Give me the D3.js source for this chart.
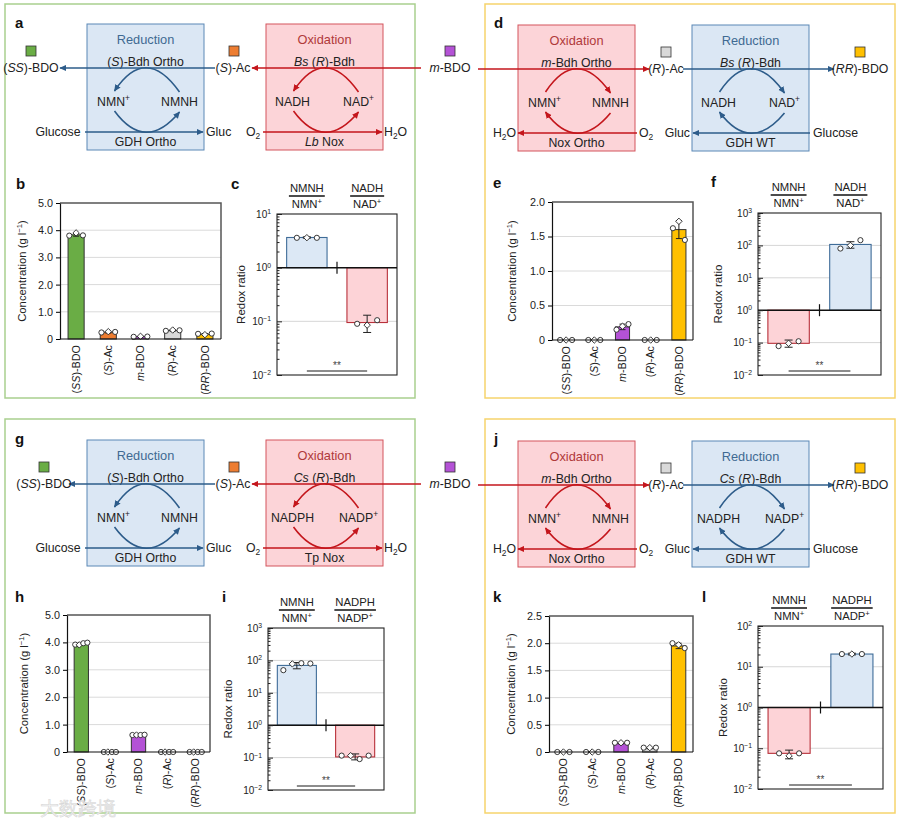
<!DOCTYPE html>
<html><head><meta charset="utf-8">
<script src="https://cdn.jsdelivr.net/npm/d3@7"></script>
<style>body{margin:0;background:#fff}svg{display:block}text{font-family:"Liberation Sans",Arial,sans-serif}</style>
</head><body><svg id="fig" width="900" height="823"></svg>
<script>
// ---------------- DATA ----------------
const concCategories = ["(SS)-BDO", "(S)-Ac", "m-BDO", "(R)-Ac", "(RR)-BDO"];

const bTicks = [0, 1, 2, 3, 4, 5];
const bMeans = [3.83, 0.25, 0.09, 0.31, 0.18];
const bErr = [0.05, 0.03, 0.01, 0.02, 0.02];
const bReps = [[3.80, 3.90, 3.81], [0.24, 0.27, 0.26], [0.08, 0.10, 0.09], [0.30, 0.33, 0.32], [0.19, 0.16, 0.20]];

const eTicks = [0, 0.5, 1, 1.5, 2];
const eMeans = [0, 0, 0.19, 0, 1.60];
const eErr = [0, 0, 0.04, 0, 0.13];
const eReps = [[0, 0, 0], [0, 0, 0], [0.15, 0.20, 0.23], [0, 0, 0], [1.62, 1.72, 1.45]];

const hTicks = [0, 1, 2, 3, 4, 5];
const hMeans = [3.94, 0, 0.62, 0, 0];
const hErr = [0.03, 0, 0.01, 0, 0];
const hReps = [[3.92, 3.91, 3.97, 3.99], [0, 0, 0, 0], [0.62, 0.62, 0.62, 0.63], [0, 0, 0, 0], [0, 0, 0, 0]];

const kTicks = [0, 0.5, 1, 1.5, 2, 2.5];
const kMeans = [0, 0, 0.16, 0.07, 1.95];
const kErr = [0, 0, 0.01, 0.01, 0.05];
const kReps = [[0, 0, 0], [0, 0, 0], [0.17, 0.17, 0.17], [0.08, 0.08, 0.08], [2.00, 1.97, 1.91]];

const cHeaders = [["NMNH", "NMN+"], ["NADH", "NAD+"]];
const cDomain = [0.01, 10];
const cMeans = [3.65, 0.095];
const cLow = [3.55, 0.062], cHigh = [3.75, 0.13];
const cReps = [[3.6, 3.62, 3.6], [0.09, 0.085, 0.105]];

const fHeaders = [["NMNH", "NMN+"], ["NADH", "NAD+"]];
const fDomain = [0.01, 1000];
const fMeans = [0.095, 107];
const fLow = [0.072, 82], fHigh = [0.12, 130];
const fReps = [[0.078, 0.095, 0.11], [80, 100, 145]];

const iHeaders = [["NMNH", "NMN+"], ["NADPH", "NADP+"]];
const iDomain = [0.01, 1000];
const iMeans = [70, 0.105];
const iLow = [55, 0.085], iHigh = [86, 0.13];
const iReps = [[50, 78, 82, 80], [0.115, 0.115, 0.09, 0.115]];

const lHeaders = [["NMNH", "NMN+"], ["NADPH", "NADP+"]];
const lDomain = [0.01, 100];
const lMeans = [0.075, 20.5];
const lLow = [0.055, 19.5], lHigh = [0.09, 21.5];
const lReps = [[0.075, 0.065, 0.075], [20.5, 20.5, 20.5]];

// ---------------- STYLE ----------------
const concColors = ["#6aad45", "#ed7d31", "#b452d6", "#d9d9d9", "#ffc000"];
const BLUE = "#2d5c8a", RED = "#c4161c";
const svg = d3.select("#fig");

function rich(sel, str, fs) {
  let cur = 0;
  const toks = str.match(/\*[^*]+\*|\^[^^]+\^|_[^_]+_|[^*^_]+/g) || [];
  for (const tok of toks) {
    const t = sel.append("tspan");
    let target = 0, txt = tok, size = null, ital = false;
    if (tok[0] === "*") { txt = tok.slice(1, -1); ital = true; }
    else if (tok[0] === "^") { txt = tok.slice(1, -1); target = -0.38 * fs; size = 0.68 * fs; }
    else if (tok[0] === "_") { txt = tok.slice(1, -1); target = 0.25 * fs; size = 0.68 * fs; }
    if (target !== cur) t.attr("dy", target - cur);
    cur = target;
    if (size) t.attr("font-size", size);
    if (ital) t.attr("font-style", "italic");
    t.text(txt);
  }
  return sel;
}
function txt(x, y, s, opt = {}) {
  const fs = opt.fs || 12.3;
  const t = svg.append("text").attr("x", x).attr("y", y).attr("font-size", fs)
    .attr("text-anchor", opt.anchor || "middle").attr("fill", opt.fill || "#222");
  if (opt.bold) t.attr("font-weight", "bold");
  rich(t, s, fs);
  return t;
}
function markup(cat) {
  return cat.replace(/\(([SR]+)\)/, "(*$1*)").replace(/^m-/, "*m*-");
}

// arrow markers
const defs = svg.append("defs");
[["ab", BLUE], ["ar", RED]].forEach(([id, c]) => {
  defs.append("marker").attr("id", id).attr("viewBox", "0 0 10 10").attr("refX", 9).attr("refY", 5)
    .attr("markerWidth", 7).attr("markerHeight", 7).attr("markerUnits", "userSpaceOnUse").attr("orient", "auto")
    .append("path").attr("d", "M0,0.5 L10,5 L0,9.5 Z").attr("fill", c);
});
function arrow(d, col) {
  svg.append("path").attr("d", d).attr("fill", "none").attr("stroke", col).attr("stroke-width", 1.6)
    .attr("marker-end", col === BLUE ? "url(#ab)" : "url(#ar)");
}
function hArrow(xs, xe, y, col) { arrow(`M${xs},${y} L${xe},${y}`, col); }
function square(cx, cy, fill) {
  svg.append("rect").attr("x", cx - 5).attr("y", cy - 5).attr("width", 10).attr("height", 10)
    .attr("fill", fill).attr("stroke", "#333").attr("stroke-width", 0.8);
}

// frames
[[5, 4, "#a9cf8e"], [485, 4, "#f6d46c"], [5, 419, "#a9cf8e"], [485, 419, "#f6d46c"]].forEach(([x, y, c]) => {
  svg.append("rect").attr("x", x).attr("y", y).attr("width", 410).attr("height", 394)
    .attr("fill", "none").attr("stroke", c).attr("stroke-width", 1.5);
});

// cycle box
function cycleBox(x0, top, kind, title, enzyme, bottomEnz, cofL, cofR, dir) {
  const w = 117, h = 126, cx = x0 + w / 2;
  const col = kind === "blue" ? BLUE : RED;
  svg.append("rect").attr("x", x0).attr("y", top).attr("width", w).attr("height", h)
    .attr("fill", kind === "blue" ? "#dbe7f4" : "#fcd4d8")
    .attr("stroke", kind === "blue" ? "#5b88b6" : "#d3545d").attr("stroke-width", 1);
  txt(cx, top + 20, title, { fs: 12.8, fill: kind === "blue" ? "#3f6a92" : "#b03a3a" });
  txt(cx, top + 42, enzyme);
  txt(cx - 32, top + 82, cofL);
  txt(cx + 34, top + 82, cofR);
  txt(cx, top + 122, bottomEnz);
  const L = [cx - 31, top + 67], R = [cx + 34, top + 68];
  const L2 = [cx - 31, top + 87], R2 = [cx + 34, top + 88];
  if (dir === "ccw") {
    arrow(`M${R} Q${cx},${top + 20} ${L}`, col);
    arrow(`M${L2} Q${cx},${top + 129} ${R2}`, col);
  } else {
    arrow(`M${L} Q${cx},${top + 20} ${R}`, col);
    arrow(`M${R2} Q${cx},${top + 129} ${L2}`, col);
  }
}

function leftScheme(top, letter, prodX, prodHead, oxEnz, cof, nox) {
  txt(15, top + 4, letter, { fs: 15, bold: true, anchor: "start", fill: "#111" });
  cycleBox(87, top, "blue", "Reduction", "(*S*)-Bdh Ortho", "GDH Ortho", "NMN^+^", "NMNH", "ccw");
  cycleBox(266, top, "red", "Oxidation", oxEnz, nox, cof[0], cof[1], "ccw");
  const ya = top + 44;
  hArrow(215, prodHead, ya, BLUE);
  hArrow(421, 252, ya, RED);
  square(prodX, top + 27, concColors[0]); txt(prodX, ya + 4, "(*SS*)-BDO");
  square(234, top + 27, concColors[1]); txt(233, ya + 4, "(*S*)-Ac");
  square(450, top + 27, concColors[2]); txt(450, ya + 4, "*m*-BDO");
  const yb = top + 108;
  txt(58, yb + 4, "Glucose");
  hArrow(85, 203, yb, BLUE);
  txt(206, yb + 4, "Gluc", { anchor: "start" });
  txt(253, yb + 4, "O_2_");
  hArrow(263, 382, yb, RED);
  txt(384, yb + 4, "H_2_O", { anchor: "start" });
}
function rightScheme(top, letter, redEnz, cof) {
  txt(494, top + 3, letter, { fs: 15, bold: true, anchor: "start", fill: "#111" });
  cycleBox(518, top, "red", "Oxidation", "*m*-Bdh Ortho", "Nox Ortho", "NMN^+^", "NMNH", "cw");
  cycleBox(692, top, "blue", "Reduction", redEnz, "GDH WT", cof[0], cof[1], "cw");
  const ya = top + 44;
  hArrow(478, 649, ya, RED);
  hArrow(683, 834, ya, BLUE);
  square(666, top + 27, concColors[3]); txt(666, ya + 4, "(*R*)-Ac");
  square(860, top + 27, concColors[4]); txt(860, ya + 4, "(*RR*)-BDO");
  const yb = top + 108;
  txt(516, yb + 4, "H_2_O", { anchor: "end" });
  hArrow(637, 518, yb, RED);
  txt(639, yb + 4, "O_2_", { anchor: "start" });
  txt(690, yb + 4, "Gluc", { anchor: "end" });
  hArrow(810, 693, yb, BLUE);
  txt(813, yb + 4, "Glucose", { anchor: "start" });
}
leftScheme(24, "a", 31, 60, "*Bs* (*R*)-Bdh", ["NADH", "NAD^+^"], "*Lb* Nox");
leftScheme(440, "g", 44, 69, "*Cs* (*R*)-Bdh", ["NADPH", "NADP^+^"], "Tp Nox");
rightScheme(25, "d", "*Bs* (*R*)-Bdh", ["NADH", "NAD^+^"]);
rightScheme(441, "j", "*Cs* (*R*)-Bdh", ["NADPH", "NADP^+^"]);

// marker
function marker(g, x, y, i) {
  if (i % 3 === 1) {
    g.append("path").attr("d", `M${x},${y - 3.2} L${x + 3.2},${y} L${x},${y + 3.2} L${x - 3.2},${y} Z`)
      .attr("fill", "#fff").attr("stroke", "#222").attr("stroke-width", 0.9);
  } else {
    g.append("circle").attr("cx", x).attr("cy", y).attr("r", 2.6)
      .attr("fill", "#fff").attr("stroke", "#222").attr("stroke-width", 0.9);
  }
}

// concentration chart
function concChart(o) {
  const g = svg.append("g");
  const x = d3.scaleBand().domain(concCategories).range([o.x0, o.x1]);
  const y = d3.scaleLinear().domain([0, d3.max(o.ticks)]).range([o.yBot, o.yTop]);
  txt(o.lx, o.ly, o.letter, { fs: 15, bold: true, anchor: "start", fill: "#111" });
  o.ticks.slice(1, -1).forEach(t => g.append("line").attr("x1", o.x0).attr("x2", o.x1)
    .attr("y1", y(t)).attr("y2", y(t)).attr("stroke", "#dadada").attr("stroke-width", 1));
  g.append("path").attr("d", `M${o.x0},${o.yTop} L${o.x1},${o.yTop} L${o.x1},${o.yBot}`)
    .attr("fill", "none").attr("stroke", "#555").attr("stroke-width", 1.5);
  const ax = g.append("g").attr("transform", `translate(${o.x0},0)`)
    .call(d3.axisLeft(y).tickValues(o.ticks).tickSize(4).tickSizeOuter(0)
      .tickFormat(d => d === 0 ? "0" : d3.format(".1f")(d)));
  ax.selectAll("text").attr("font-size", 10.8).attr("fill", "#222").attr("font-family", "Liberation Sans, Arial");
  ax.select(".domain").attr("stroke", "#111").attr("stroke-width", 1.2);
  const bw = x.bandwidth() * 0.5;
  concCategories.forEach((c, i) => {
    const cx = x(c) + x.bandwidth() / 2;
    g.append("rect").attr("x", cx - bw / 2).attr("y", y(o.means[i])).attr("width", bw)
      .attr("height", y(0) - y(o.means[i])).attr("fill", concColors[i]).attr("stroke", "#333").attr("stroke-width", 1);
    if (o.err[i] > 0) {
      const y1 = y(o.means[i] - o.err[i]), y2 = y(o.means[i] + o.err[i]);
      g.append("path").attr("d", `M${cx},${y1} L${cx},${y2} M${cx - 3},${y1} L${cx + 3},${y1} M${cx - 3},${y2} L${cx + 3},${y2}`)
        .attr("stroke", "#222").attr("stroke-width", 1).attr("fill", "none");
    }
    const reps = o.reps[i], n = reps.length, spread = bw * 0.85;
    reps.forEach((v, j) => marker(g, cx - spread / 2 + (n === 1 ? spread / 2 : spread * j / (n - 1)), y(v), j));
    const lt = g.append("text").attr("transform", `translate(${cx},${o.yBot + 6}) rotate(-90)`)
      .attr("text-anchor", "end").attr("dy", "0.35em").attr("font-size", 10.8).attr("fill", "#222");
    rich(lt, markup(c), 10.8);
  });
  g.append("line").attr("x1", o.x0).attr("x2", o.x1).attr("y1", o.yBot).attr("y2", o.yBot)
    .attr("stroke", "#111").attr("stroke-width", 1.2);
  const tt = g.append("text").attr("transform", `translate(${o.tx},${(o.yTop + o.yBot) / 2}) rotate(-90)`)
    .attr("text-anchor", "middle").attr("font-size", 11.3).attr("fill", "#222");
  rich(tt, "Concentration (g l^−1^)", 11.3);
}

// redox chart
function redoxChart(o) {
  const g = svg.append("g");
  const x = d3.scaleBand().domain([0, 1]).range([o.x0, o.x1]).paddingInner(0.33).paddingOuter(0.16);
  const y = d3.scaleLog().domain(o.domain).range([o.yBot, o.yTop]);
  txt(o.lx, o.ly, o.letter, { fs: 15, bold: true, anchor: "start", fill: "#111" });
  const e0 = Math.round(Math.log10(o.domain[0])), e1 = Math.round(Math.log10(o.domain[1]));
  const majors = d3.range(e0, e1 + 1).map(e => Math.pow(10, e));
  const minors = [];
  d3.range(e0, e1).forEach(e => { for (let k = 2; k <= 9; k++) minors.push(k * Math.pow(10, e)); });
  majors.slice(1, -1).forEach(t => { if (t !== 1) g.append("line").attr("x1", o.x0).attr("x2", o.x1)
    .attr("y1", y(t)).attr("y2", y(t)).attr("stroke", "#d6d6d6").attr("stroke-width", 1); });
  const bw = x.bandwidth();
  [0, 1].forEach(i => {
    const v = o.means[i], up = v > 1, cx = x(i) + bw / 2;
    g.append("rect").attr("x", x(i)).attr("y", Math.min(y(v), y(1))).attr("width", bw)
      .attr("height", Math.abs(y(v) - y(1)))
      .attr("fill", up ? "#dce8f5" : "#fdd3d7").attr("stroke", up ? "#3f6c98" : "#b8303a").attr("stroke-width", 1.1);
    const y1 = y(o.low[i]), y2 = y(o.high[i]);
    g.append("path").attr("d", `M${cx},${y1} L${cx},${y2} M${cx - 4},${y1} L${cx + 4},${y1} M${cx - 4},${y2} L${cx + 4},${y2}`)
      .attr("stroke", "#222").attr("stroke-width", 1).attr("fill", "none");
    const reps = o.reps[i], n = reps.length, spread = n > 3 ? 27 : 20;
    reps.forEach((r, j) => marker(g, cx - spread / 2 + spread * j / (n - 1), y(r), j));
    // header fraction
    const hn = txt(cx, o.yTop - 22, o.headers[i][0], { fs: 11.3 });
    const hd = txt(cx, o.yTop - 6, o.headers[i][1].replace("+", "^+^"), { fs: 11.3 });
    const wl = Math.max(hn.node().getComputedTextLength(), hd.node().getComputedTextLength()) + 2;
    svg.append("line").attr("x1", cx - wl / 2).attr("x2", cx + wl / 2).attr("y1", o.yTop - 18).attr("y2", o.yTop - 18)
      .attr("stroke", "#111").attr("stroke-width", 1.3);
  });
  g.append("rect").attr("x", o.x0).attr("y", o.yTop).attr("width", o.x1 - o.x0).attr("height", o.yBot - o.yTop)
    .attr("fill", "none").attr("stroke", "#222").attr("stroke-width", 1.1);
  g.append("line").attr("x1", o.x0).attr("x2", o.x1).attr("y1", y(1)).attr("y2", y(1))
    .attr("stroke", "#111").attr("stroke-width", 1.5);
  const mx = (x(0) + bw + x(1)) / 2;
  g.append("line").attr("x1", mx).attr("x2", mx).attr("y1", y(1) - 6).attr("y2", y(1) + 6)
    .attr("stroke", "#111").attr("stroke-width", 1.2);
  g.append("g").attr("transform", `translate(${o.x0},0)`)
    .call(d3.axisLeft(y).tickValues(minors).tickSize(-2.5).tickFormat(""))
    .call(s => s.select(".domain").remove()).selectAll("line").attr("stroke", "#222");
  const ax = g.append("g").attr("transform", `translate(${o.x0},0)`)
    .call(d3.axisLeft(y).tickValues(majors).tickSize(-5).tickPadding(6).tickFormat(""));
  ax.select(".domain").remove();
  ax.selectAll("line").attr("stroke", "#222");
  ax.selectAll("text").each(function (d) {
    const t = d3.select(this).attr("font-size", 10).attr("fill", "#222").attr("font-family", "Liberation Sans, Arial");
    const e = Math.round(Math.log10(d));
    rich(t, "10^" + (e < 0 ? "−" + (-e) : e) + "^", 10);
  });
  // significance
  const c0 = x(0) + bw / 2, c1 = x(1) + bw / 2;
  g.append("line").attr("x1", c0).attr("x2", c1).attr("y1", o.yBot - 4).attr("y2", o.yBot - 4)
    .attr("stroke", "#666").attr("stroke-width", 1.3);
  g.append("text").attr("x", (c0 + c1) / 2).attr("y", o.yBot - 6).attr("text-anchor", "middle")
    .attr("font-size", 10).attr("fill", "#444").text("**");
  g.append("text").attr("transform", `translate(${o.tx},${(o.yTop + o.yBot) / 2}) rotate(-90)`)
    .attr("text-anchor", "middle").attr("font-size", 11.5).attr("fill", "#222").text("Redox ratio");
}

concChart({ letter: "b", lx: 16, ly: 189, x0: 60, x1: 221, yTop: 203, yBot: 339, ticks: bTicks, means: bMeans, err: bErr, reps: bReps, tx: 26 });
concChart({ letter: "e", lx: 493, ly: 188, x0: 552, x1: 693, yTop: 202, yBot: 340, ticks: eTicks, means: eMeans, err: eErr, reps: eReps, tx: 516 });
concChart({ letter: "h", lx: 15, ly: 602, x0: 67, x1: 210, yTop: 615, yBot: 752, ticks: hTicks, means: hMeans, err: hErr, reps: hReps, tx: 28 });
concChart({ letter: "k", lx: 493, ly: 602, x0: 549, x1: 693, yTop: 616, yBot: 752, ticks: kTicks, means: kMeans, err: kErr, reps: kReps, tx: 515 });

redoxChart({ letter: "c", lx: 231, ly: 189, x0: 277, x1: 397, yTop: 214, yBot: 375, domain: cDomain, means: cMeans, low: cLow, high: cHigh, reps: cReps, headers: cHeaders, tx: 245 });
redoxChart({ letter: "f", lx: 711, ly: 187, x0: 758, x1: 881, yTop: 213, yBot: 375, domain: fDomain, means: fMeans, low: fLow, high: fHigh, reps: fReps, headers: fHeaders, tx: 722 });
redoxChart({ letter: "i", lx: 222, ly: 602, x0: 268, x1: 384, yTop: 628, yBot: 790, domain: iDomain, means: iMeans, low: iLow, high: iHigh, reps: iReps, headers: iHeaders, tx: 232 });
redoxChart({ letter: "l", lx: 702, ly: 602, x0: 758, x1: 883, yTop: 626, yBot: 789, domain: lDomain, means: lMeans, low: lLow, high: lHigh, reps: lReps, headers: lHeaders, tx: 727 });

// watermark
svg.append("text").attr("x", 40).attr("y", 815).attr("font-size", 19).attr("font-family", "Noto Sans CJK SC")
  .attr("fill", "#f4f4f4").attr("stroke", "#d4d4d4").attr("stroke-width", 0.5).text("大数跨境");
</script></body></html>
